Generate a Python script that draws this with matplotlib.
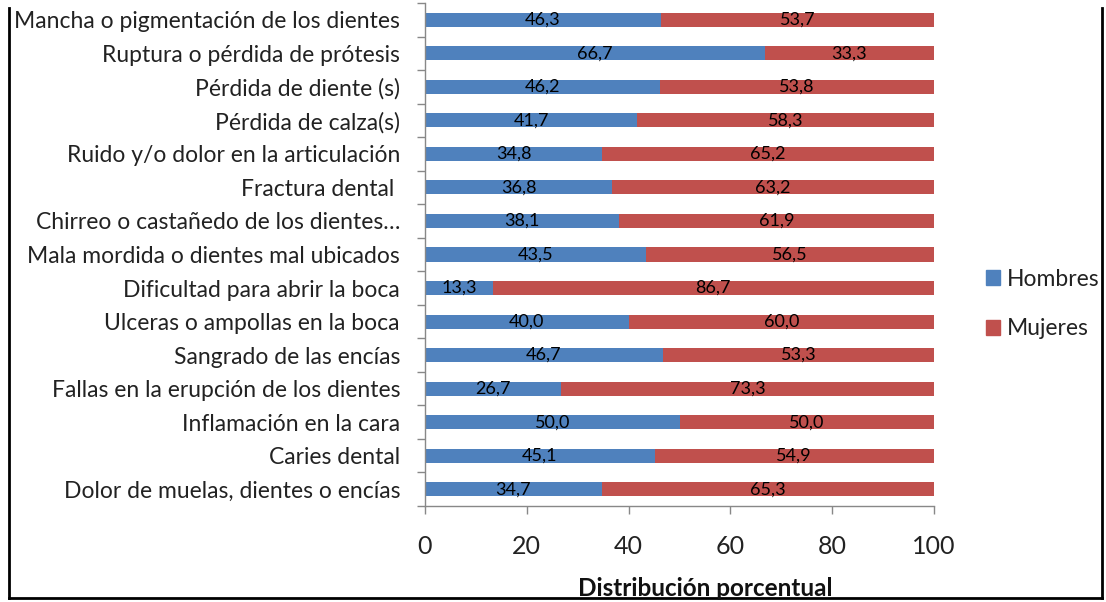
import matplotlib
matplotlib.use("Agg")
import matplotlib.pyplot as plt
from matplotlib.lines import Line2D
from matplotlib.patches import Patch
import numpy as np

plt.rcParams['font.family'] = ['Lato', 'DejaVu Sans']

# categories listed bottom to top
categorias = [
    "Dolor de muelas, dientes o encías",
    "Caries dental",
    "Inflamación en la cara",
    "Fallas en la erupción de los dientes",
    "Sangrado de las encías",
    "Ulceras o ampollas en la boca",
    "Dificultad para abrir la boca",
    "Mala mordida o dientes mal ubicados",
    "Chirreo o castañedo de los dientes…",
    "Fractura dental ",
    "Ruido y/o dolor en la articulación",
    "Pérdida de calza(s)",
    "Pérdida de diente (s)",
    "Ruptura o pérdida de prótesis",
    "Mancha o pigmentación de los dientes",
]
hombres = [34.7, 45.1, 50.0, 26.7, 46.7, 40.0, 13.3, 43.5, 38.1, 36.8, 34.8, 41.7, 46.2, 66.7, 46.3]
mujeres = [65.3, 54.9, 50.0, 73.3, 53.3, 60.0, 86.7, 56.5, 61.9, 63.2, 65.2, 58.3, 53.8, 33.3, 53.7]

azul = "#4F81BD"
rojo = "#C0504D"

W, H = 1106, 602
fig = plt.figure(figsize=(W / 100, H / 100), dpi=100)
ax = fig.add_axes([425 / W, 1 - 506 / H, (934 - 425) / W, (506 - 3) / H])

y = np.arange(len(categorias))
b1 = ax.barh(y, hombres, height=0.42, color=azul, label="Hombres")
b2 = ax.barh(y, mujeres, left=hombres, height=0.42, color=rojo, label="Mujeres")

def fmt(v):
    return f"{v:.1f}".replace(".", ",")

for bars, vals in ((b1, hombres), (b2, mujeres)):
    ax.bar_label(bars, labels=[fmt(v) for v in vals], label_type="center",
                 fontsize=13, color="black")

ax.set_xlim(0, 100)
ax.set_ylim(-0.5, len(categorias) - 0.5)
ax.set_xticks(np.arange(0, 101, 20))
ax.set_yticks(y)
ax.set_yticklabels(categorias)
ax.set_yticks(np.arange(-0.5, len(categorias), 1), minor=True)

ax.tick_params(axis="y", which="major", length=0, pad=18, labelsize=16.5, labelcolor="#222222")
ax.tick_params(axis="y", which="minor", length=6, width=1, color="#888888", direction="out")
ax.tick_params(axis="x", length=6, width=1, color="#888888", pad=15, labelsize=18, labelcolor="#222222")

for s in ("top", "right"):
    ax.spines[s].set_visible(False)
for s in ("left", "bottom"):
    ax.spines[s].set_color("#888888")
    ax.spines[s].set_linewidth(1)

fig.text(705 / W, 1 - 588 / H, "Distribución porcentual", ha="center", va="center",
         fontsize=17.5, fontweight="bold", color="#111111")

fig.legend(handles=[Patch(color=azul, label="Hombres"), Patch(color=rojo, label="Mujeres")],
           loc="center left", bbox_to_anchor=(986 / W, 1 - 304 / H), frameon=False,
           fontsize=16.5, handlelength=0.6, handleheight=0.6, handletextpad=0.3,
           labelspacing=1.25, labelcolor="#222222", borderaxespad=0, borderpad=0)

# outer frame (left, right, bottom)
fr = dict(color="black", linewidth=2, transform=fig.transFigure)
fig.add_artist(Line2D([9 / W, 9 / W], [1 - 598 / H, 1 - 8 / H], **fr))
fig.add_artist(Line2D([1102 / W, 1102 / W], [1 - 598 / H, 1 - 8 / H], **fr))
fig.add_artist(Line2D([9 / W, 1102 / W], [1 - 598 / H, 1 - 598 / H], **fr))

fig.savefig("out.png", dpi=100)
